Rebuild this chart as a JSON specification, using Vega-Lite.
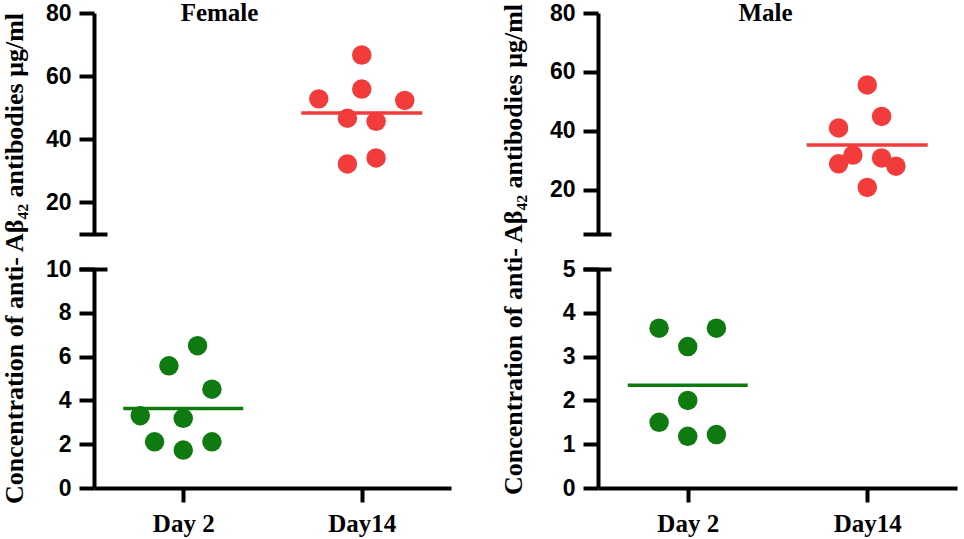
{
  "$schema": "https://vega.github.io/schema/vega-lite/v6.json",
  "padding": {"left": 1, "top": 1, "right": 5, "bottom": 4},
  "spacing": 49,
  "datasets": {
    "d": [
      {"sex": "Female", "day": "Day 2", "jitter": -3, "value": 3.30},
      {"sex": "Female", "day": "Day 2", "jitter": -2, "value": 2.11},
      {"sex": "Female", "day": "Day 2", "jitter": -1, "value": 5.58},
      {"sex": "Female", "day": "Day 2", "jitter": 0, "value": 3.18},
      {"sex": "Female", "day": "Day 2", "jitter": 0, "value": 1.73},
      {"sex": "Female", "day": "Day 2", "jitter": 1, "value": 6.50},
      {"sex": "Female", "day": "Day 2", "jitter": 2, "value": 4.51},
      {"sex": "Female", "day": "Day 2", "jitter": 2, "value": 2.11},
      {"sex": "Female", "day": "Day14", "jitter": -3, "value": 52.8},
      {"sex": "Female", "day": "Day14", "jitter": -1, "value": 46.7},
      {"sex": "Female", "day": "Day14", "jitter": -1, "value": 32.2},
      {"sex": "Female", "day": "Day14", "jitter": 0, "value": 66.7},
      {"sex": "Female", "day": "Day14", "jitter": 0, "value": 55.9},
      {"sex": "Female", "day": "Day14", "jitter": 1, "value": 45.7},
      {"sex": "Female", "day": "Day14", "jitter": 1, "value": 34.1},
      {"sex": "Female", "day": "Day14", "jitter": 3, "value": 52.3},
      {"sex": "Male", "day": "Day 2", "jitter": -2, "value": 3.65},
      {"sex": "Male", "day": "Day 2", "jitter": -2, "value": 1.50},
      {"sex": "Male", "day": "Day 2", "jitter": 0, "value": 3.23},
      {"sex": "Male", "day": "Day 2", "jitter": 0, "value": 2.00},
      {"sex": "Male", "day": "Day 2", "jitter": 0, "value": 1.18},
      {"sex": "Male", "day": "Day 2", "jitter": 2, "value": 3.65},
      {"sex": "Male", "day": "Day 2", "jitter": 2, "value": 1.22},
      {"sex": "Male", "day": "Day14", "jitter": -2, "value": 41.0},
      {"sex": "Male", "day": "Day14", "jitter": -2, "value": 28.8},
      {"sex": "Male", "day": "Day14", "jitter": -1, "value": 31.8},
      {"sex": "Male", "day": "Day14", "jitter": 0, "value": 55.6},
      {"sex": "Male", "day": "Day14", "jitter": 0, "value": 20.8},
      {"sex": "Male", "day": "Day14", "jitter": 1, "value": 44.9},
      {"sex": "Male", "day": "Day14", "jitter": 1, "value": 30.8},
      {"sex": "Male", "day": "Day14", "jitter": 2, "value": 28.0}
    ]
  },
  "config": {
    "view": {"stroke": null},
    "axis": {
      "grid": false,
      "domainColor": "black",
      "domainWidth": 4,
      "tickColor": "black",
      "tickWidth": 4,
      "tickSize": 15,
      "labelColor": "black",
      "labelFont": "Liberation Sans",
      "labelFontSize": 23,
      "labelFontWeight": "bold",
      "labelPadding": 8,
      "titleFont": "Liberation Serif",
      "titleFontSize": 26,
      "titleFontWeight": "bold",
      "titleColor": "black"
    },
    "title": {"font": "Liberation Serif", "fontSize": 25, "fontWeight": "bold", "color": "black", "anchor": "middle"}
  },
  "hconcat": [
    {
      "spacing": 35,
      "bounds": "flush",
      "vconcat": [
        {
          "width": 357,
          "height": 221,
          "title": {"text": "Female", "dx": -53, "offset": -24, "frame": "group"},
          "data": {"name": "d"},
          "transform": [{"filter": "datum.sex === 'Female' && datum.day === 'Day14'"}],
          "resolve": {"axis": {"y": "independent"}},
          "layer": [
            {
              "mark": {"type": "circle", "size": 380, "opacity": 1, "color": "#F23B3B"},
              "encoding": {
                "x": {"field": "day", "type": "nominal", "scale": {"type": "point", "domain": ["Day 2", "Day14"], "padding": 0.5}, "axis": null},
                "xOffset": {"field": "jitter", "type": "quantitative", "scale": {"domain": [-3, 3], "range": [-43, 43]}},
                "y": {"field": "value", "type": "quantitative", "scale": {"domain": [10, 80], "nice": false, "zero": false}, "axis": {"values": [20, 40, 60, 80], "title": null, "orient": "left"}}
              }
            },
            {
              "mark": {"type": "tick", "size": 121, "thickness": 3.5, "opacity": 1, "color": "#F23B3B"},
              "encoding": {
                "x": {"field": "day", "type": "nominal", "scale": {"type": "point", "domain": ["Day 2", "Day14"], "padding": 0.5}, "axis": null},
                "y": {"aggregate": "mean", "field": "value", "type": "quantitative", "axis": {"orient": "left", "offset": -13, "values": [10], "tickSize": 28, "labels": false, "domain": false, "title": null}}
              }
            }
          ]
        },
        {
          "width": 357,
          "height": 219,
          "data": {"name": "d"},
          "transform": [{"filter": "datum.sex === 'Female' && datum.day === 'Day 2'"}],
          "resolve": {"axis": {"y": "independent"}},
          "layer": [
            {
              "mark": {"type": "circle", "size": 380, "opacity": 1, "color": "#0F7A0F"},
              "encoding": {
                "x": {"field": "day", "type": "nominal", "scale": {"type": "point", "domain": ["Day 2", "Day14"], "padding": 0.5}, "axis": {"title": null, "labelAngle": 0, "labelFont": "Liberation Serif", "labelFontSize": 25, "tickSize": 14, "labelPadding": 9}},
                "xOffset": {"field": "jitter", "type": "quantitative", "scale": {"domain": [-3, 3], "range": [-43, 43]}},
                "y": {"field": "value", "type": "quantitative", "scale": {"domain": [0, 10], "nice": false}, "axis": {"values": [0, 2, 4, 6, 8, 10], "orient": "left", "title": "Concentration of anti- Aβ₄₂ antibodies μg/ml", "titleY": -11, "titlePadding": 18}}
              }
            },
            {
              "mark": {"type": "tick", "size": 120, "thickness": 3.5, "opacity": 1, "color": "#0F7A0F"},
              "encoding": {
                "x": {"field": "day", "type": "nominal", "scale": {"type": "point", "domain": ["Day 2", "Day14"], "padding": 0.5}},
                "y": {"aggregate": "mean", "field": "value", "type": "quantitative", "axis": {"orient": "left", "offset": -13, "values": [10], "tickSize": 28, "labels": false, "domain": false, "title": null}}
              }
            }
          ]
        }
      ]
    },
    {
      "spacing": 35,
      "bounds": "flush",
      "vconcat": [
        {
          "width": 359,
          "height": 221,
          "title": {"text": "Male", "dx": -12, "offset": -24, "frame": "group"},
          "data": {"name": "d"},
          "transform": [{"filter": "datum.sex === 'Male' && datum.day === 'Day14'"}],
          "resolve": {"axis": {"y": "independent"}},
          "layer": [
            {
              "mark": {"type": "circle", "size": 380, "opacity": 1, "color": "#F23B3B"},
              "encoding": {
                "x": {"field": "day", "type": "nominal", "scale": {"type": "point", "domain": ["Day 2", "Day14"], "padding": 0.5}, "axis": null},
                "xOffset": {"field": "jitter", "type": "quantitative", "scale": {"domain": [-3, 3], "range": [-43, 43]}},
                "y": {"field": "value", "type": "quantitative", "scale": {"domain": [5, 80], "nice": false, "zero": false}, "axis": {"values": [20, 40, 60, 80], "title": null, "orient": "left"}}
              }
            },
            {
              "mark": {"type": "tick", "size": 121, "thickness": 3.5, "opacity": 1, "color": "#F23B3B"},
              "encoding": {
                "x": {"field": "day", "type": "nominal", "scale": {"type": "point", "domain": ["Day 2", "Day14"], "padding": 0.5}, "axis": null},
                "y": {"aggregate": "mean", "field": "value", "type": "quantitative", "axis": {"orient": "left", "offset": -13, "values": [5], "tickSize": 28, "labels": false, "domain": false, "title": null}}
              }
            }
          ]
        },
        {
          "width": 359,
          "height": 219,
          "data": {"name": "d"},
          "transform": [{"filter": "datum.sex === 'Male' && datum.day === 'Day 2'"}],
          "resolve": {"axis": {"y": "independent"}},
          "layer": [
            {
              "mark": {"type": "circle", "size": 380, "opacity": 1, "color": "#0F7A0F"},
              "encoding": {
                "x": {"field": "day", "type": "nominal", "scale": {"type": "point", "domain": ["Day 2", "Day14"], "padding": 0.5}, "axis": {"title": null, "labelAngle": 0, "labelFont": "Liberation Serif", "labelFontSize": 25, "tickSize": 14, "labelPadding": 9}},
                "xOffset": {"field": "jitter", "type": "quantitative", "scale": {"domain": [-3, 3], "range": [-43, 43]}},
                "y": {"field": "value", "type": "quantitative", "scale": {"domain": [0, 5], "nice": false}, "axis": {"values": [0, 1, 2, 3, 4, 5], "orient": "left", "title": "Concentration of anti- Aβ₄₂ antibodies μg/ml", "titleY": -20, "titlePadding": 36}}
              }
            },
            {
              "mark": {"type": "tick", "size": 120, "thickness": 3.5, "opacity": 1, "color": "#0F7A0F"},
              "encoding": {
                "x": {"field": "day", "type": "nominal", "scale": {"type": "point", "domain": ["Day 2", "Day14"], "padding": 0.5}},
                "y": {"aggregate": "mean", "field": "value", "type": "quantitative", "axis": {"orient": "left", "offset": -13, "values": [5], "tickSize": 28, "labels": false, "domain": false, "title": null}}
              }
            }
          ]
        }
      ]
    }
  ]
}
